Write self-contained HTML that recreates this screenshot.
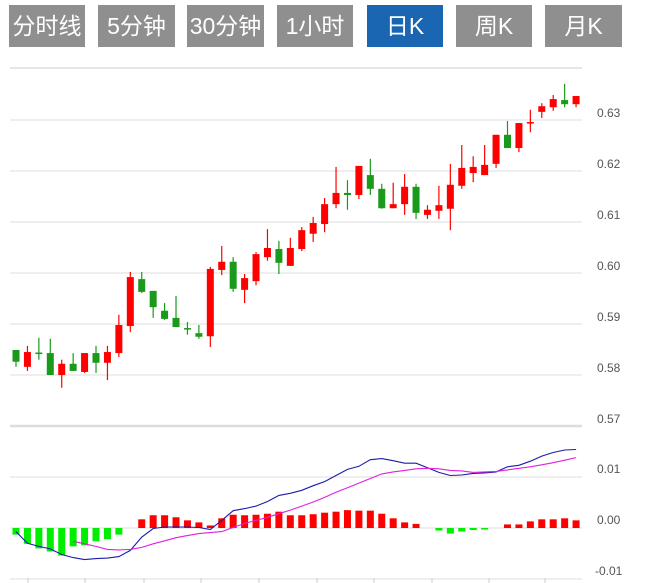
<!DOCTYPE html>
<html><head><meta charset="utf-8">
<style>
html,body{margin:0;padding:0;background:#fff;width:645px;height:583px;overflow:hidden}
.btn{position:absolute;top:5px;height:42px;line-height:42px;text-align:center;color:#fff;background:#8f8f8f;font-family:"Liberation Sans","Noto Sans CJK SC",sans-serif;font-size:23px}
.btn.on{background:#1a66b3}
svg{position:absolute;left:0;top:0}
</style></head><body>
<div class="btn" style="left:9px;width:76px">分时线</div>
<div class="btn" style="left:98px;width:77px">5分钟</div>
<div class="btn" style="left:187px;width:77px">30分钟</div>
<div class="btn" style="left:277px;width:76px">1小时</div>
<div class="btn on" style="left:367px;width:76px">日K</div>
<div class="btn" style="left:456px;width:76px">周K</div>
<div class="btn" style="left:545px;width:77px">月K</div>
<svg id="chart" width="645" height="583"></svg>
<script>
const openP=[0.5849,0.5816,0.5844,0.5843,0.5800,0.5822,0.5806,0.5843,0.5824,0.5843,0.5896,0.5988,0.5965,0.5926,0.5912,0.5892,0.5882,0.5876,0.6006,0.6022,0.5967,0.5984,0.6031,0.6047,0.6014,0.6047,0.6077,0.6096,0.6135,0.6157,0.6153,0.6192,0.6165,0.6127,0.6135,0.6169,0.6114,0.6122,0.6126,0.6171,0.6196,0.6192,0.6214,0.6271,0.6245,0.6294,0.6316,0.6325,0.6339,0.6331];
const closeP=[0.5826,0.5845,0.5843,0.5800,0.5822,0.5808,0.5843,0.5824,0.5845,0.5898,0.5992,0.5963,0.5933,0.5910,0.5894,0.5890,0.5875,0.6008,0.6022,0.5969,0.5990,0.6037,0.6049,0.6020,0.6049,0.6084,0.6098,0.6135,0.6157,0.6153,0.6210,0.6165,0.6127,0.6135,0.6169,0.6118,0.6124,0.6133,0.6173,0.6206,0.6208,0.6212,0.6271,0.6245,0.6294,0.6296,0.6327,0.6341,0.6331,0.6347];
const highP=[0.5849,0.5857,0.5873,0.5871,0.5830,0.5843,0.5843,0.5857,0.5857,0.5918,0.6002,0.6002,0.5965,0.5941,0.5955,0.5904,0.5898,0.6012,0.6053,0.6031,0.5998,0.6041,0.6086,0.6063,0.6069,0.6090,0.6110,0.6147,0.6208,0.6182,0.6210,0.6224,0.6175,0.6177,0.6194,0.6175,0.6133,0.6171,0.6214,0.6251,0.6229,0.6251,0.6271,0.6298,0.6294,0.6320,0.6333,0.6349,0.6371,0.6347];
const lowP=[0.5816,0.5808,0.5830,0.5800,0.5775,0.5808,0.5804,0.5804,0.5790,0.5835,0.5884,0.5961,0.5912,0.5908,0.5894,0.5879,0.5871,0.5855,0.5996,0.5963,0.5941,0.5976,0.6024,0.5998,0.6014,0.6043,0.6061,0.6080,0.6127,0.6124,0.6145,0.6153,0.6126,0.6127,0.6114,0.6106,0.6106,0.6106,0.6084,0.6165,0.6178,0.6192,0.6206,0.6245,0.6237,0.6276,0.6304,0.6318,0.6325,0.6325];
const macdHist=[-0.0013,-0.0031,-0.0040,-0.0046,-0.0054,-0.0036,-0.0034,-0.0026,-0.0022,-0.0013,0.0000,0.0017,0.0025,0.0025,0.0021,0.0015,0.0011,0.0005,0.0019,0.0026,0.0025,0.0026,0.0028,0.0032,0.0025,0.0025,0.0027,0.0030,0.0032,0.0035,0.0034,0.0034,0.0028,0.0019,0.0011,0.0008,0.0000,-0.0005,-0.0011,-0.0007,-0.0004,-0.0003,0.0000,0.0007,0.0007,0.0013,0.0017,0.0017,0.0019,0.0015];
const difVals=[-0.0007,-0.0030,-0.0036,-0.0041,-0.0052,-0.0058,-0.0062,-0.0060,-0.0059,-0.0056,-0.0044,-0.0018,-0.0001,0.0002,0.0002,0.0002,0.0001,-0.0003,0.0015,0.0034,0.0038,0.0043,0.0052,0.0064,0.0068,0.0074,0.0083,0.0091,0.0103,0.0115,0.0121,0.0134,0.0136,0.0132,0.0127,0.0127,0.0118,0.0109,0.0103,0.0104,0.0107,0.0108,0.0110,0.0120,0.0123,0.0131,0.0141,0.0148,0.0153,0.0154];
const deaVals=[null,null,null,null,null,-0.0026,-0.0031,-0.0036,-0.0042,-0.0043,-0.0042,-0.0038,-0.0031,-0.0025,-0.0019,-0.0015,-0.0011,-0.0009,-0.0007,0.0001,0.0009,0.0015,0.0021,0.0028,0.0035,0.0043,0.0051,0.0060,0.0070,0.0079,0.0088,0.0097,0.0106,0.0110,0.0113,0.0116,0.0117,0.0116,0.0113,0.0112,0.0109,0.0110,0.0111,0.0114,0.0117,0.0120,0.0124,0.0128,0.0133,0.0138];
const priceTicks=["0.63","0.62","0.61","0.60","0.59","0.58","0.57"];
const priceTickVals=[0.63,0.62,0.61,0.60,0.59,0.58,0.57];
const macdTicks=["0.01","0.00","-0.01"];
const macdTickVals=[0.01,0,-0.01];

const NS="http://www.w3.org/2000/svg";
const svg=document.getElementById('chart');
function mk(tag,attrs){const e=document.createElementNS(NS,tag);for(const k in attrs)e.setAttribute(k,attrs[k]);svg.appendChild(e);return e;}
const X0=16,STEP=11.43;
function xAt(i){return X0+i*STEP;}
function yP(p){return 120+(0.63-p)*5100;}
function yM(v){return 528-v*5100;}

let g=mk('line',{x1:10,x2:582,y1:68,y2:68,stroke:'#ddd','stroke-width':1.5});


priceTickVals.forEach((v,k)=>{
  const y=yP(v);
  const l=mk('line',{x1:10,x2:582,y1:y,y2:y,stroke:'#ddd','stroke-width':k==6?2.5:1});
  
  
  const t=mk('text',{x:597,y:y-3,'font-size':12,fill:'#555','font-family':'Liberation Sans, sans-serif'});
  t.textContent=priceTicks[k];
  
  
});
macdTickVals.forEach((v,k)=>{
  const y=yM(v);
  const l=mk('line',{x1:10,x2:582,y1:y,y2:y,stroke:'#ddd','stroke-width':1});
  
  
  const t=mk('text',{x:v<0?595:597,y:y-4,'font-size':12,fill:'#555','font-family':'Liberation Sans, sans-serif'});
  t.textContent=macdTicks[k];
  
  
});
[28,85,144,201,259,317,374,432,489,545].forEach(x=>{
  const l=mk('line',{x1:x,x2:x,y1:578,y2:583,stroke:'#ccc','stroke-width':1});
  
  
});

for(let i=0;i<openP.length;i++){
  const up=closeP[i]>=openP[i];
  const col=up?'#ff0000':'#1a9a1a';
  const x=xAt(i);
  const w=mk('line',{x1:x,x2:x,y1:yP(highP[i]),y2:yP(lowP[i]),stroke:col,'stroke-width':1.2});
  
  
  const top=yP(Math.max(openP[i],closeP[i])),bot=yP(Math.min(openP[i],closeP[i]));
  const r=mk('rect',{x:x-3.5,y:top,width:7,height:Math.max(1.5,bot-top),fill:col});
  
  
}
for(let i=0;i<macdHist.length;i++){
  const v=macdHist[i]; if(v===0)continue;
  const x=xAt(i);
  const y0=yM(0),y1=yM(v);
  const r=mk('rect',{x:x-3.5,y:Math.min(y0,y1),width:7,height:Math.abs(y1-y0),fill:v>0?'#ff0000':'#00ee00'});
  
  
}
function line(arr,col,name){
  let d='';
  arr.forEach((v,i)=>{if(v===null)return;d+=(d?'L':'M')+xAt(i).toFixed(1)+','+yM(v).toFixed(1);});
  const p=mk('path',{d:d,fill:'none',stroke:col,'stroke-width':1.1});
  
  
}
line(difVals,'#1c1ca8','dif-line');
line(deaVals,'#e020e0','dea-line');
</script>
</body></html>
